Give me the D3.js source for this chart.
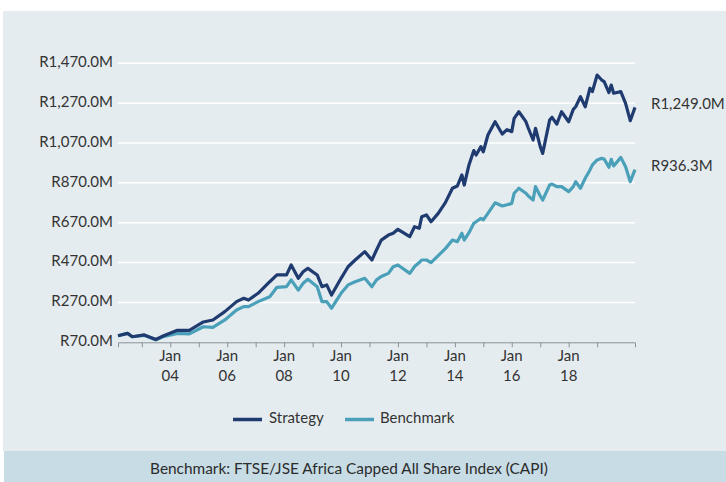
<!DOCTYPE html>
<html>
<head>
<meta charset="utf-8">
<script src="https://cdn.jsdelivr.net/npm/d3@7"></script>
<style>
  html, body { margin: 0; padding: 0; background: #ffffff; }
  svg { display: block; font-family: Lato, "Open Sans", sans-serif; }
</style>
</head>
<body>
<div class="svg-container"></div>
<script>
const dates = [
    '2002-03', '2002-07', '2002-09', '2003-02', '2003-07', '2003-10',
    '2004-04', '2004-09', '2005-03', '2005-07', '2005-12', '2006-05',
    '2006-08', '2006-10', '2007-02', '2007-07', '2007-10', '2008-02',
    '2008-04', '2008-07', '2008-09', '2008-11', '2009-03', '2009-05',
    '2009-07', '2009-09', '2010-01', '2010-04', '2010-07', '2010-11',
    '2011-02', '2011-04', '2011-06', '2011-09', '2011-11', '2012-01',
    '2012-06', '2012-08', '2012-10', '2012-11', '2013-01', '2013-03',
    '2013-06', '2013-09', '2013-12', '2014-02', '2014-04', '2014-05',
    '2014-07', '2014-09', '2014-10', '2014-12', '2015-01', '2015-03',
    '2015-06', '2015-09', '2015-11', '2016-01', '2016-02', '2016-04',
    '2016-07', '2016-08', '2016-10', '2016-11', '2017-01', '2017-02',
    '2017-05', '2017-06', '2017-08', '2017-10', '2018-01', '2018-03',
    '2018-04', '2018-06', '2018-08', '2018-10', '2018-11', '2019-01',
    '2019-03', '2019-04', '2019-06', '2019-07', '2019-08', '2019-11',
    '2020-01', '2020-03', '2020-05'
];

// Values in R millions
const strategy = [
    103, 115, 98, 107, 84, 102,
    130, 130, 172, 182, 224, 274,
    291, 282, 316, 374, 408, 408,
    458, 391, 424, 441, 408, 349,
    358, 307, 391, 449, 483, 525,
    483, 533, 583, 608, 617, 637,
    600, 650, 642, 700, 709, 675,
    717, 771, 843, 854, 910, 859,
    960, 1032, 1010, 1052, 1026, 1110,
    1177, 1115, 1137, 1127, 1194, 1227,
    1177, 1144, 1085, 1144, 1052, 1018,
    1185, 1199, 1165, 1227, 1177, 1239,
    1252, 1302, 1252, 1345, 1328, 1411,
    1386, 1378, 1323, 1361, 1320, 1328,
    1269, 1182, 1249.0
];

const benchmark = [
    103, 115, 98, 105, 82, 98,
    115, 112, 148, 145, 182, 232,
    249, 249, 274, 299, 346, 349,
    383, 332, 366, 386, 349, 274,
    274, 241, 316, 358, 374, 391,
    349, 383, 400, 416, 449, 458,
    416, 450, 470, 483, 483, 470,
    505, 540, 583, 575, 617, 583,
    620, 667, 675, 692, 684, 717,
    770, 754, 760, 767, 818, 843,
    818, 804, 784, 851, 804, 784,
    859, 864, 851, 851, 826, 851,
    876, 843, 893, 935, 960, 985,
    993, 990, 948, 988, 955, 998,
    951, 876, 936.3
];

const yTicks = [70, 270, 470, 670, 870, 1070, 1270, 1470];
const majorYears = [2004, 2006, 2008, 2010, 2012, 2014, 2016, 2018];
const minorYears = [2003, 2005, 2007, 2009, 2011, 2013, 2015, 2017, 2019];

const seriesNames = ['Strategy', 'Benchmark'];
const seriesColors = ['#1f3b6f', '#4aa0b9'];

const chart = (() => {
    const W = 726, H = 482;
    const M = { left: 118, right: 635, top: 63.3, bottom: 342.3 };
    const FS = '15px';

    const parse = d3.timeParse('%Y-%m');
    const fmtMoney = v => 'R' + d3.format(',.1f')(v) + 'M';

    const initSVG = () => {
        return d3.select('.svg-container').append('svg')
            .attr('width', W)
            .attr('height', H);
    };

    const drawPanels = (svg) => {
        svg.append('rect')
            .attr('x', 3).attr('y', 11)
            .attr('width', W - 3).attr('height', 440)
            .attr('fill', '#e5ecf0');
        svg.append('rect')
            .attr('x', 4).attr('y', 451)
            .attr('width', W - 4).attr('height', H - 451)
            .attr('fill', '#c7dce5');
        svg.append('text')
            .attr('x', 349).attr('y', 470)
            .attr('text-anchor', 'middle')
            .attr('dominant-baseline', 'middle')
            .attr('font-size', '15.4px')
            .attr('fill', '#2b2b2b')
            .text('Benchmark: FTSE/JSE Africa Capped All Share Index (CAPI)');
    };

    const init = () => {
        const svg = initSVG();
        drawPanels(svg);

        const parsed = dates.map(parse);
        const x = d3.scaleTime()
            .domain(d3.extent(parsed))
            .range([M.left, M.right]);
        const y = d3.scaleLinear()
            .domain([70, 1470])
            .range([M.bottom, M.top]);

        // gridlines
        svg.append('g')
            .selectAll('line')
            .data(yTicks.slice(1))
            .enter()
            .append('line')
            .attr('x1', M.left).attr('x2', M.right)
            .attr('y1', d => y(d)).attr('y2', d => y(d))
            .attr('stroke', '#ffffff')
            .attr('stroke-width', 1.5);

        // y labels
        svg.append('g')
            .selectAll('text')
            .data(yTicks)
            .enter()
            .append('text')
            .attr('x', 113)
            .attr('y', d => y(d))
            .attr('text-anchor', 'end')
            .attr('dominant-baseline', 'middle')
            .attr('font-size', FS)
            .attr('fill', '#333')
            .text(fmtMoney);

        // x axis
        const xAxis = svg.append('g')
            .attr('transform', `translate(0,${M.bottom})`)
            .call(d3.axisBottom(x)
                .tickValues(majorYears.concat(minorYears).map(yr => new Date(yr, 0, 1)))
                .tickSize(5)
                .tickSizeOuter(5)
                .tickFormat(''));
        xAxis.select('.domain').attr('stroke', '#8a9398');
        xAxis.selectAll('.tick line').attr('stroke', '#8a9398');

        const labels = svg.append('g')
            .selectAll('text')
            .data(majorYears)
            .enter()
            .append('text')
            .attr('x', d => x(new Date(d, 0, 1)))
            .attr('text-anchor', 'middle')
            .attr('font-size', FS)
            .attr('fill', '#333');
        labels.append('tspan')
            .attr('x', d => x(new Date(d, 0, 1)))
            .attr('y', 361)
            .text('Jan');
        labels.append('tspan')
            .attr('x', d => x(new Date(d, 0, 1)))
            .attr('y', 381)
            .text(d => String(d).slice(2));

        // lines
        const line = d3.line()
            .x((d, i) => x(parsed[i]))
            .y(d => y(d));

        [benchmark, strategy].forEach((vals, k) => {
            svg.append('path')
                .datum(vals)
                .attr('d', line)
                .attr('fill', 'none')
                .attr('stroke', k === 0 ? seriesColors[1] : seriesColors[0])
                .attr('stroke-width', 3.2)
                .attr('stroke-linejoin', 'round');
        });

        // end labels
        [strategy, benchmark].forEach(vals => {
            const last = vals[vals.length - 1];
            svg.append('text')
                .attr('x', 651)
                .attr('y', y(last) - 2)
                .attr('dominant-baseline', 'middle')
                .attr('font-size', FS)
                .attr('fill', '#333')
                .text(fmtMoney(last));
        });

        // legend
        const legend = svg.append('g');
        const legendX = [233, 345];
        const legendTextX = [269, 380];
        seriesNames.forEach((name, i) => {
            legend.append('line')
                .attr('x1', legendX[i]).attr('x2', legendX[i] + 29)
                .attr('y1', 419.5).attr('y2', 419.5)
                .attr('stroke', seriesColors[i])
                .attr('stroke-width', 3.5);
            legend.append('text')
                .attr('x', legendTextX[i])
                .attr('y', 419)
                .attr('dominant-baseline', 'middle')
                .attr('font-size', FS)
                .attr('fill', '#333')
                .text(name);
        });
    };

    return { init: init };
})();

chart.init();
</script>
</body>
</html>
